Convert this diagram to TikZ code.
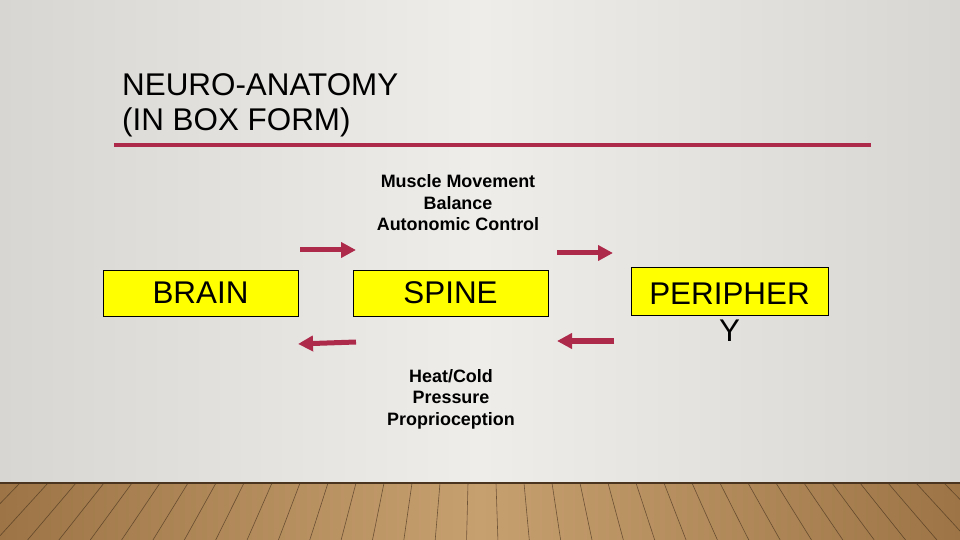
\documentclass[tikz,border=0pt]{standalone}
\usepackage{fontspec}
\setmainfont{Liberation Sans}
\usetikzlibrary{arrows.meta}
\definecolor{bgmid}{HTML}{EEEDEA}
\definecolor{bgside}{HTML}{D8D6D2}
\definecolor{crim}{HTML}{AE2A4B}
\definecolor{woodA}{HTML}{9C7445}
\definecolor{woodB}{HTML}{C7A070}
\definecolor{woodline}{HTML}{4A3420}
\definecolor{boxyellow}{HTML}{FFFF00}
\tikzset{
  box/.style={draw=black, line width=0.8bp, fill=boxyellow, minimum width=195bp, minimum height=46bp, inner sep=0pt, font=\fontsize{31.5}{33}\selectfont},
  info/.style={align=center, font=\bfseries\fontsize{18}{21.5}\selectfont, inner sep=0pt},
  flow/.style={draw=crim, line width=5bp, -{Triangle[length=15bp,width=15bp]}},
  title/.style={anchor=base west, inner sep=0pt, font=\fontsize{31.5}{35}\selectfont}
}
\begin{document}
\begin{tikzpicture}[x=1bp,y=-1bp]
\useasboundingbox (0,0) rectangle (960,540);
% background
\shade[left color=bgside, right color=bgside, middle color=bgmid] (0,0) rectangle (960,483);
% floor
\shade[left color=woodA, right color=woodA, middle color=woodB] (0,483) rectangle (960,540);
\foreach \x in {-40,-10,20,48,76,104,132,160,188,216,244,272,300,328,356,384,412,440,468,496,524,552,580,608,636,664,692,720,748,776,804,832,860,888,916,944,972,1000} {
  \draw[woodline, line width=0.6bp, opacity=0.7] (\x,483) -- ({480+(\x-480)*1.12},540);
}
\draw[woodline, line width=2bp] (0,483) -- (960,483);
% title
\node[title] (t1) at (122,96) {NEURO-ANATOMY};
\node[title] (t2) at (122,131) {(IN BOX FORM)};
\draw[crim, line width=4bp] (114,145) -- (871,145);
% boxes
\node[box] (brain) at (200.5,293) {BRAIN};
\node[box] (spine) at (450.5,293) {SPINE};
\node[box, minimum width=197bp, minimum height=48bp] (peri) at (729.5,291) {};
\node[anchor=base, inner sep=0pt, font=\fontsize{31.5}{33}\selectfont] (p1) at (729.5,305) {PERIPHER};
\node[anchor=base, inner sep=0pt, font=\fontsize{31.5}{33}\selectfont] (p2) at (729.5,342) {Y};
% info texts
\node[info] (motor) at (458,203) {Muscle Movement\\Balance\\Autonomic Control};
\node[info] (sense) at (451,399) {Heat/Cold\\Pressure\\Proprioception};
% arrows
\coordinate (a1s) at (300,250); \coordinate (a1e) at (356,250);
\coordinate (a2s) at (557,253); \coordinate (a2e) at (613,253);
\coordinate (a3s) at (356,342); \coordinate (a3e) at (298,344);
\coordinate (a4s) at (614,341); \coordinate (a4e) at (557,341);
\draw[flow] (a1s) -- (a1e);
\draw[flow] (a2s) -- (a2e);
\draw[flow] (a3s) -- (a3e);
\draw[flow] (a4s) -- (a4e);
\end{tikzpicture}
\end{document}
